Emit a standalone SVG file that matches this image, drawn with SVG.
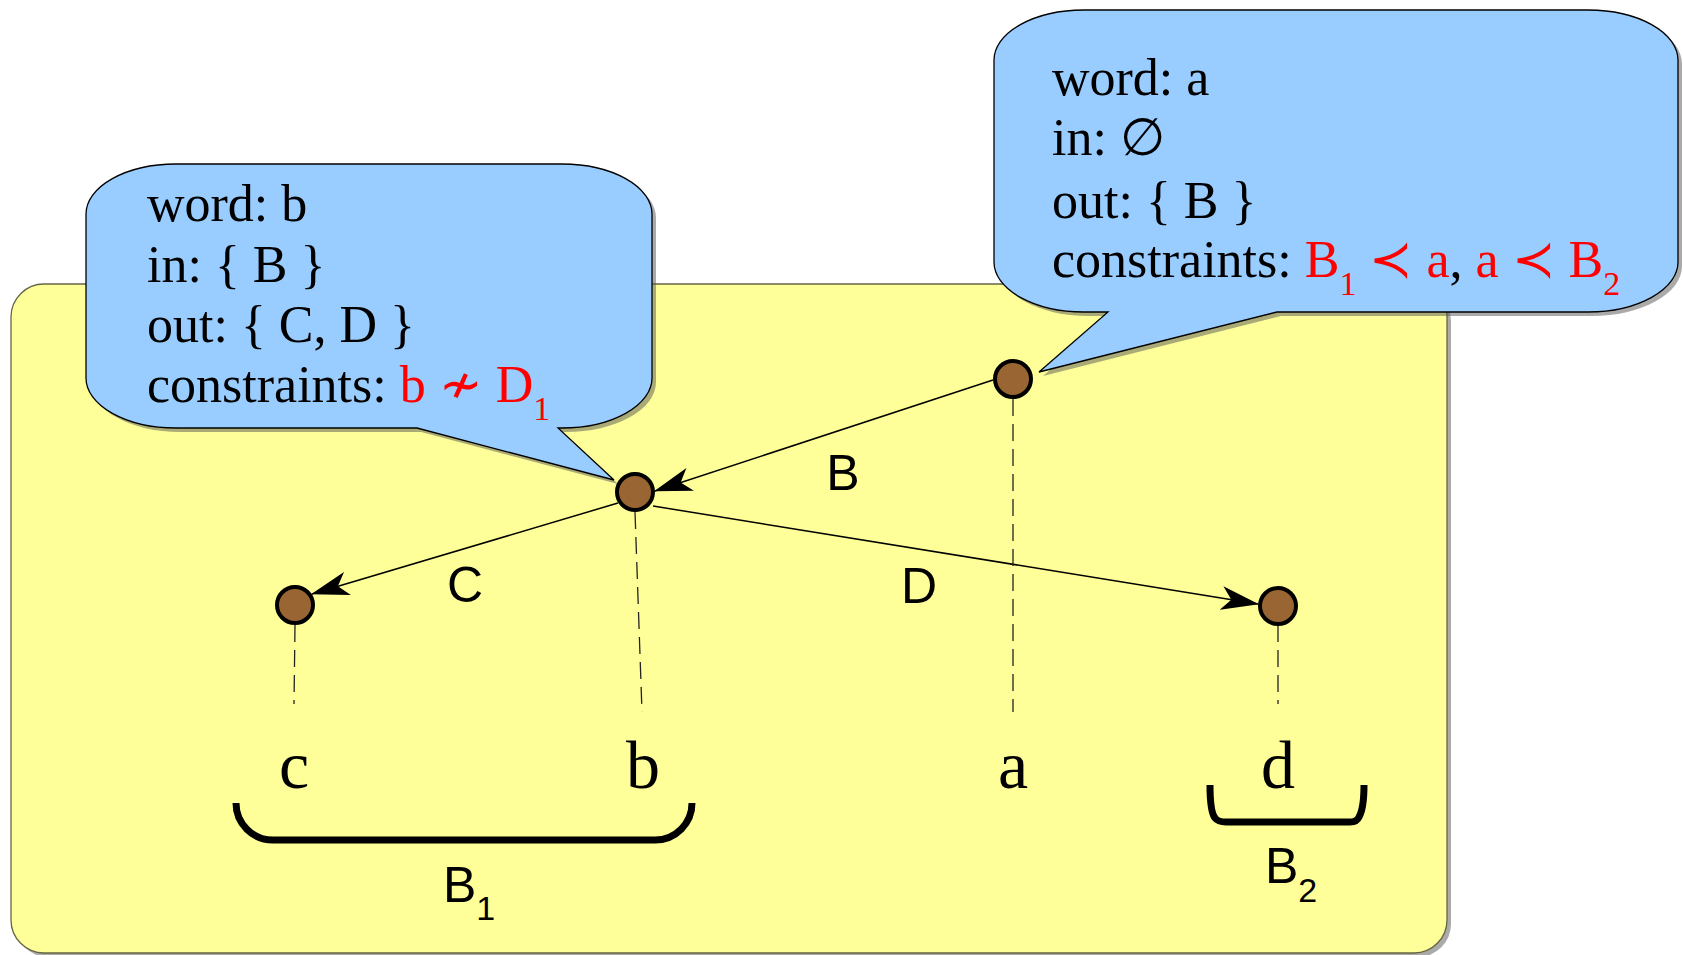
<svg xmlns="http://www.w3.org/2000/svg" width="1683" height="955" viewBox="0 0 1683 955">
<style>
.serif{font-family:"Liberation Serif","Times New Roman",serif;fill:#000}
.sans{font-family:"Liberation Sans",Arial,sans-serif;fill:#000}
.red{fill:#ff0000}
.callout{fill:#99ccff;stroke:#000;stroke-width:1.3}
.shadow{fill:#555;opacity:0.5}
.edge{stroke:#000;stroke-width:1.5;fill:none;marker-end:url(#arrow)}
.dash{stroke:#222;stroke-width:1.3;stroke-dasharray:17 8;fill:none}
.node{fill:#996633;stroke:#000;stroke-width:4}
.bracket{fill:none;stroke:#000;stroke-width:7}
</style>
<defs>
<marker id="arrow" markerUnits="userSpaceOnUse" viewBox="0 0 38 24" refX="37" refY="12" markerWidth="38" markerHeight="24" orient="auto">
<path d="M38,12 L0,0 L10,12 L0,24 Z" fill="#000"/>
</marker>
</defs>
<rect width="1683" height="955" fill="#fff"/>
<g id="panel">
<rect class="shadow" x="15" y="288" width="1436" height="669" rx="33" ry="33"/>
<rect x="11" y="284" width="1436" height="669" rx="33" ry="33" fill="#ffff99" stroke="#666644" stroke-width="1.3"/>
</g>
<g id="callout-b">
<path class="shadow" transform="translate(4,4)" d="M176,164 H562 A90 50 0 0 1 652 214 V378 A90 50 0 0 1 562 428 H558 L614 480 L417 428 H176 A90 50 0 0 1 86 378 V214 A90 50 0 0 1 176 164 Z"/>
<path class="callout" d="M176,164 H562 A90 50 0 0 1 652 214 V378 A90 50 0 0 1 562 428 H558 L614 480 L417 428 H176 A90 50 0 0 1 86 378 V214 A90 50 0 0 1 176 164 Z"/>
<text class="serif" font-size="52" x="147" y="221">word: b</text>
<text class="serif" font-size="52" x="147" y="282">in: { B }</text>
<text class="serif" font-size="52" x="147" y="342">out: { C, D }</text>
<text class="serif" font-size="52" x="147" y="402">constraints: <tspan class="red">b ≁ D</tspan><tspan class="red" font-size="34" dy="18">1</tspan></text>
</g>
<g id="callout-a">
<path class="shadow" transform="translate(4,4)" d="M1084,10 H1588 A90 50 0 0 1 1678 60 V262 A90 50 0 0 1 1588 312 H1277 L1039 372 L1108 312 H1084 A90 50 0 0 1 994 262 V60 A90 50 0 0 1 1084 10 Z"/>
<path class="callout" d="M1084,10 H1588 A90 50 0 0 1 1678 60 V262 A90 50 0 0 1 1588 312 H1277 L1039 372 L1108 312 H1084 A90 50 0 0 1 994 262 V60 A90 50 0 0 1 1084 10 Z"/>
<text class="serif" font-size="52" x="1052" y="95">word: a</text>
<text class="serif" font-size="52" x="1052" y="155">in: ∅</text>
<text class="serif" font-size="52" x="1052" y="218">out: { B }</text>
<text class="serif" font-size="52" x="1052" y="277">constraints: <tspan class="red">B</tspan><tspan class="red" font-size="34" dy="18">1</tspan><tspan class="red" dy="-18"> ≺ a</tspan>,<tspan class="red"> a ≺ B</tspan><tspan class="red" font-size="34" dy="18">2</tspan></text>
</g>
<g id="connectors">
<path class="edge" d="M993,380 L655,491"/>
<path class="edge" d="M618,503 L312,594"/>
<path class="edge" d="M653,506 L1258,604"/>
<path class="dash" d="M295,625 L294,704"/>
<path class="dash" d="M635,512 L642,712"/>
<path class="dash" d="M1013,399 L1013,712"/>
<path class="dash" d="M1278,625 L1278,704"/>
<text class="sans" font-size="50" x="843" y="490" text-anchor="middle">B</text>
<text class="sans" font-size="50" x="465" y="602" text-anchor="middle">C</text>
<text class="sans" font-size="50" x="919" y="603" text-anchor="middle">D</text>
</g>
<g id="node-a"><circle class="node" cx="1013" cy="379" r="18"/></g>
<g id="node-b"><circle class="node" cx="635" cy="492" r="18"/></g>
<g id="node-c"><circle class="node" cx="295" cy="605" r="18"/></g>
<g id="node-d"><circle class="node" cx="1278" cy="606" r="18"/></g>
<g id="words">
<text class="serif" font-size="68" x="294" y="788" text-anchor="middle">c</text>
<text class="serif" font-size="68" x="643" y="788" text-anchor="middle">b</text>
<text class="serif" font-size="68" x="1013" y="788" text-anchor="middle">a</text>
<text class="serif" font-size="68" x="1278" y="788" text-anchor="middle">d</text>
</g>
<g id="bracket-B1">
<path class="bracket" d="M236,803 A37 37 0 0 0 273 840 H655 A37 37 0 0 0 692 803"/>
<text class="sans" font-size="50" x="443" y="902">B<tspan font-size="34" dy="18">1</tspan></text>
</g>
<g id="bracket-B2">
<path class="bracket" stroke-width="6" d="M1210,785 C1210,800 1211,813 1215,818 Q1218,822 1226,822 H1350 Q1357,822 1359,817 C1363,810 1364,797 1364,785"/>
<text class="sans" font-size="50" x="1265" y="883">B<tspan font-size="34" dy="19">2</tspan></text>
</g>
</svg>
